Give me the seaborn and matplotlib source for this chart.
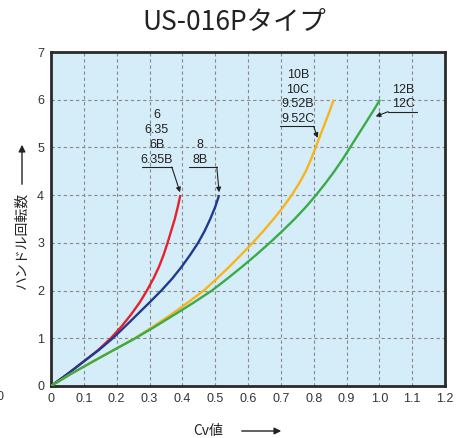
import matplotlib
matplotlib.use("Agg")
import matplotlib.pyplot as plt
import matplotlib.patches as mpatches
import seaborn as sns
import pandas as pd

sns.set_theme(style="white")
plt.rcParams['font.family'] = ['Noto Sans CJK JP', 'DejaVu Sans']

title = "US-016Pタイプ"
x_label = "Cv値"
y_label = "ハンドル回転数"

red_rot = [0, 0.25, 0.5, 0.75, 1, 1.25, 1.5, 1.75, 2, 2.25, 2.5, 2.75, 3, 3.25, 3.5, 3.75, 4]
red_cv = [0, 0.05, 0.097, 0.143, 0.182, 0.215, 0.244, 0.27, 0.292, 0.312, 0.329, 0.343, 0.355, 0.366, 0.377, 0.386, 0.394]
blue_rot = [0, 0.25, 0.5, 0.75, 1, 1.25, 1.5, 1.75, 2, 2.25, 2.5, 2.75, 3, 3.25, 3.5, 3.75, 4]
blue_cv = [0, 0.05, 0.097, 0.145, 0.188, 0.226, 0.263, 0.30, 0.336, 0.369, 0.398, 0.424, 0.448, 0.468, 0.485, 0.50, 0.512]
orange_rot = [0, 0.25, 0.5, 0.75, 1, 1.25, 1.5, 1.75, 2, 2.25, 2.5, 2.75, 3,
              3.25, 3.5, 3.75, 4, 4.25, 4.5, 4.75, 5, 5.25, 5.5, 5.75, 6]
orange_cv = [0, 0.06, 0.125, 0.19, 0.255, 0.312, 0.366, 0.417, 0.465, 0.505, 0.543, 0.579, 0.614,
             0.647, 0.678, 0.707, 0.733, 0.756, 0.776, 0.792, 0.806, 0.820, 0.834, 0.848, 0.861]
green_rot = [0, 0.25, 0.5, 0.75, 1, 1.25, 1.5, 1.75, 2, 2.25, 2.5, 2.75, 3,
             3.25, 3.5, 3.75, 4, 4.25, 4.5, 4.75, 5, 5.25, 5.5, 5.75, 6]
green_cv = [0, 0.06, 0.124, 0.19, 0.257, 0.318, 0.377, 0.435, 0.49, 0.537, 0.582, 0.625, 0.666,
            0.705, 0.742, 0.776, 0.807, 0.836, 0.863, 0.888, 0.911, 0.934, 0.957, 0.98, 1.002]

series_labels = ["6\n6.35\n6B\n6.35B", "8\n8B", "10B\n10C\n9.52B\n9.52C", "12B\n12C"]
colors = ["#e8202a", "#1f3a8f", "#f8b41a", "#3aab48"]

x_ticks = [0, 0.1, 0.2, 0.3, 0.4, 0.5, 0.6, 0.7, 0.8, 0.9, 1.0, 1.1, 1.2]
x_tick_labels = ["0", "0.1", "0.2", "0.3", "0.4", "0.5", "0.6", "0.7", "0.8", "0.9", "1.0", "1.1", "1.2"]
y_ticks = [0, 1, 2, 3, 4, 5, 6, 7]

fig = plt.figure(figsize=(4.68, 4.38), dpi=100)
ax = fig.add_axes([51/468, 1-386/438, 394/468, 334/438])
ax.set_facecolor("#d5edf9")

curves = [(red_cv, red_rot), (blue_cv, blue_rot), (orange_cv, orange_rot), (green_cv, green_rot)]
for (cv, rot), c in zip(curves, colors):
    df = pd.DataFrame({"cv": cv, "rot": rot})
    sns.lineplot(data=df, x="cv", y="rot", sort=False, estimator=None, color=c, lw=1.7,
                 ax=ax, zorder=3, solid_joinstyle="round", solid_capstyle="butt")

ax.set_xlim(0, 1.2)
ax.set_ylim(0, 7)
ax.set_xticks(x_ticks)
ax.set_xticklabels(x_tick_labels)
ax.set_yticks(y_ticks)
ax.tick_params(length=0, labelsize=9, colors="#333333", pad=5)
for lbl in ax.get_xticklabels() + ax.get_yticklabels():
    lbl.set_fontfamily(['Liberation Sans', 'DejaVu Sans'])
ax.grid(True, color="#8a8a8a", linestyle=(0, (3, 2.5)), linewidth=0.8)
ax.set_axisbelow(True)
for s in ax.spines.values():
    s.set_linewidth(2)
    s.set_color("#2a2a2a")
ax.set_xlabel("")
ax.set_ylabel("")

# annotations: (text x, underline x0, x1, y, arrow end x, y, arrow from right end?)
ann = [
    (0.322, 0.277, 0.368, 4.59, 0.393, 4.06, True),
    (0.454, 0.421, 0.505, 4.59, 0.512, 4.06, True),
    (0.752, 0.696, 0.800, 5.44, 0.812, 5.20, True),
    (1.074, 1.027, 1.115, 5.75, 0.989, 5.65, False),
]
for lab, (tx, ux0, ux1, uy, axx, ayy, right) in zip(series_labels, ann):
    ax.text(tx, uy + 0.03, lab, ha="center", va="bottom", fontsize=9, color="#222222",
            linespacing=1.3, family=['Liberation Sans', 'DejaVu Sans'])
    ax.plot([ux0, ux1], [uy, uy], color="#222222", lw=0.8)
    start = (ux1, uy) if right else (ux0, uy)
    ax.annotate("", xy=(axx, ayy), xytext=start,
                arrowprops=dict(arrowstyle="-|>", color="#222222", lw=0.8,
                                mutation_scale=7, shrinkA=0, shrinkB=0))

fig.text(0.5, 1-22/438, title, ha="center", va="center", fontsize=19, color="#222222",
         family=['Noto Sans CJK JP', 'DejaVu Sans'])

# x label with arrow
fig.text(208/468, 1-431/438, x_label, ha="center", va="center", fontsize=10, color="#222222")
fig.add_artist(mpatches.FancyArrowPatch((239/468, 1-431/438), (284/468, 1-431/438),
               transform=fig.transFigure, arrowstyle="-|>", mutation_scale=10, lw=1, color="#222222"))
# y label with arrow
fig.text(22/468, 1-240/438, y_label, ha="center", va="center", rotation=90, fontsize=10, color="#222222")
fig.add_artist(mpatches.FancyArrowPatch((22/468, 1-187/438), (22/468, 1-142/438),
               transform=fig.transFigure, arrowstyle="-|>", mutation_scale=10, lw=1, color="#222222"))

# partially cropped stray label at left edge (as in the reference)
fig.text(0.0, 1-397/438, "0", ha="center", va="center", fontsize=9, color="#333333",
         family=['Liberation Sans', 'DejaVu Sans'])

fig.savefig("out.png", dpi=100)
